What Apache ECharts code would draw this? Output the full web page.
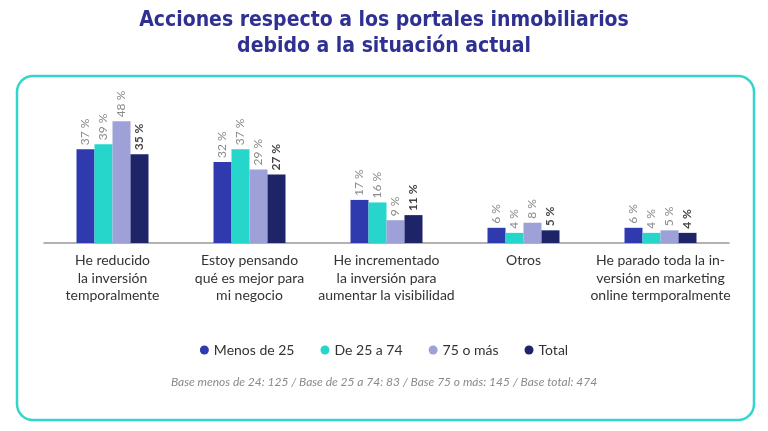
<!DOCTYPE html>
<html>
<head>
<meta charset="utf-8">
<script src="https://cdn.jsdelivr.net/npm/echarts@6/dist/echarts.min.js"></script>
<style>
  html, body { margin: 0; padding: 0; background: #fff; }
  #chart { width: 768px; height: 431px; }
</style>
</head>
<body>
<div id="chart"></div>
<script>
// datos
var categorias = [
    'He reducido\nla inversión\ntemporalmente',
    'Estoy pensando\nqué es mejor para\nmi negocio',
    'He incrementado\nla inversión para\naumentar la visibilidad',
    'Otros',
    'He parado toda la in-\nversión en marketing\nonline termporalmente'
]
var series_nombres = ['Menos de 25', 'De 25 a 74', '75 o más', 'Total']
var menos25 = [37, 32, 17, 6, 6]
var de25a74 = [39, 37, 16, 4, 4]
var mas75 = [48, 29, 9, 8, 5]
var total = [35, 27, 11, 5, 4]
var valores = [menos25, de25a74, mas75, total]
var colores = ['#2f3aaf', '#27d6cb', '#9da1d8', '#1e2468']
var nota = 'Base menos de 24: 125 / Base de 25 a 74: 83 / Base 75 o más: 145 / Base total: 474'

var fuente = "Lato, 'Open Sans', sans-serif"

var chart = echarts.init(document.getElementById('chart'))

var series = series_nombres.map(function (nombre, i) {
    var esTotal = i === 3
    return {
        name: nombre,
        type: 'bar',
        data: valores[i],
        barWidth: 18,
        barGap: 0,
        itemStyle: { color: colores[i] },
        label: {
            show: true,
            position: 'top',
            rotate: 90,
            align: 'left',
            verticalAlign: 'middle',
            distance: 4,
            formatter: '{c} %',
            fontFamily: fuente,
            fontSize: 12,
            fontWeight: esTotal ? 'bold' : 'normal',
            color: esTotal ? '#444' : '#8a8a8a'
        }
    }
})

var option = {
    animation: false,
    color: colores,
    title: {
        text: 'Acciones respecto a los portales inmobiliarios\ndebido a la situación actual',
        left: 'center',
        top: 3,
        textStyle: {
            fontFamily: "'Liberation Sans Narrow', 'DejaVu Sans Condensed', sans-serif",
            fontSize: 21,
            fontWeight: 'bold',
            color: '#2e3192',
            lineHeight: 26
        }
    },
    graphic: [{
        type: 'rect',
        shape: { x: 17, y: 76, width: 737, height: 344, r: 16 },
        style: { fill: 'none', stroke: '#35d5cb', lineWidth: 2.5 },
        z: -1
    }, {
        type: 'text',
        left: 'center',
        top: 376,
        style: {
            text: nota,
            fontFamily: fuente,
            fontSize: 12,
            fontStyle: 'italic',
            fill: '#8a8a8a'
        }
    }],
    legend: {
        data: series_nombres,
        top: 338,
        left: 'center',
        icon: 'circle',
        itemWidth: 9,
        itemHeight: 9,
        itemGap: 26,
        textStyle: { fontFamily: fuente, fontSize: 14, color: '#333' }
    },
    grid: { left: 44, right: 39, top: 96, bottom: 188 },
    xAxis: {
        type: 'category',
        data: categorias,
        axisTick: { show: false },
        axisLine: { lineStyle: { color: '#999', width: 1.5 } },
        axisLabel: {
            interval: 0,
            margin: 9,
            fontFamily: fuente,
            fontSize: 14,
            lineHeight: 17.5,
            color: '#333'
        }
    },
    yAxis: {
        type: 'value',
        min: 0,
        max: 58,
        show: false,
        splitLine: { show: false }
    },
    series: series
}

chart.setOption(option)
</script>
</body>
</html>
